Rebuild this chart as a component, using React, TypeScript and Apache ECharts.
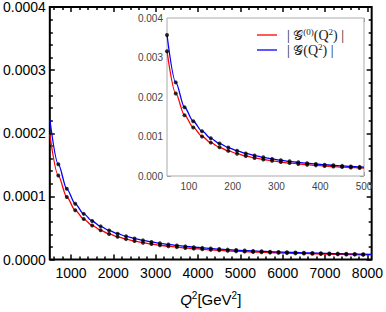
import React, { useEffect, useRef } from "react";
import * as echarts from "echarts";

// Main panel: Q^2 [GeV^2]
const mainX = [500, 700, 900, 1100, 1300, 1500, 1700, 1900, 2100, 2300, 2500, 2700, 2900, 3100, 3300, 3500, 3700, 3900, 4100, 4300, 4500, 4700, 4900, 5100, 5300, 5500, 5700, 5900, 6100, 6300, 6500, 6700, 6900, 7100, 7300, 7500, 7700, 7900, 8100];
const mainBlue = [2.22e-4, 1.51e-4, 1.12e-4, 0.882e-4, 0.723e-4, 0.61e-4, 0.525e-4, 0.46e-4, 0.409e-4, 0.367e-4, 0.332e-4, 0.303e-4, 0.278e-4, 0.257e-4, 0.239e-4, 0.2225e-4, 0.208e-4, 0.1955e-4, 0.1842e-4, 0.1741e-4, 0.1649e-4, 0.1566e-4, 0.149e-4, 0.1421e-4, 0.1357e-4, 0.1299e-4, 0.1244e-4, 0.1194e-4, 0.1148e-4, 0.1105e-4, 0.1065e-4, 0.1027e-4, 0.0992e-4, 0.0959e-4, 0.0928e-4, 0.0898e-4, 0.087e-4, 0.0844e-4, 0.0819e-4];
const mainRed = [1.98e-4, 1.33e-4, 0.99e-4, 0.78e-4, 0.64e-4, 0.54e-4, 0.462e-4, 0.405e-4, 0.36e-4, 0.323e-4, 0.292e-4, 0.267e-4, 0.245e-4, 0.226e-4, 0.21e-4, 0.196e-4, 0.183e-4, 0.172e-4, 0.162e-4, 0.153e-4, 0.145e-4, 0.138e-4, 0.131e-4, 0.125e-4, 0.119e-4, 0.114e-4, 0.109e-4, 0.105e-4, 0.101e-4, 0.097e-4, 0.094e-4, 0.09e-4, 0.087e-4, 0.084e-4, 0.082e-4, 0.079e-4, 0.077e-4, 0.074e-4, 0.072e-4];
const mainXTicks = [1000, 2000, 3000, 4000, 5000, 6000, 7000, 8000];

// Inset panel
const insetX = [50, 70, 90, 110, 130, 150, 170, 190, 210, 230, 250, 270, 290, 310, 330, 350, 370, 390, 410, 430, 450, 470, 490, 500];
const insetBlue = [3.57e-3, 2.37e-3, 1.74e-3, 1.386e-3, 1.134e-3, 0.955e-3, 0.822e-3, 0.719e-3, 0.638e-3, 0.572e-3, 0.518e-3, 0.472e-3, 0.433e-3, 0.4e-3, 0.371e-3, 0.346e-3, 0.323e-3, 0.304e-3, 0.286e-3, 0.27e-3, 0.256e-3, 0.243e-3, 0.231e-3, 0.225e-3];
const insetRed = [3.16e-3, 2.09e-3, 1.54e-3, 1.23e-3, 1.0e-3, 0.845e-3, 0.727e-3, 0.636e-3, 0.565e-3, 0.506e-3, 0.458e-3, 0.418e-3, 0.383e-3, 0.354e-3, 0.328e-3, 0.306e-3, 0.286e-3, 0.269e-3, 0.253e-3, 0.239e-3, 0.227e-3, 0.215e-3, 0.204e-3, 0.199e-3];
const insetXTicks = [100, 200, 300, 400, 500];

const RED = "#ff0000";
const BLUE = "#0000ff";
const SANS = "'Liberation Sans', Arial, Helvetica, sans-serif";
const SERIF = "'Liberation Serif', 'Times New Roman', serif";

function minorBetween(lo: number, hi: number, step: number, major: number) {
  const out: number[] = [];
  for (let v = lo; v <= hi + 1e-9; v += step) {
    if (Math.abs(v / major - Math.round(v / major)) > 1e-6) out.push(v);
  }
  return out;
}

export default function App() {
  const ref = useRef<HTMLDivElement>(null);
  useEffect(() => {
    if (!ref.current) return;
    const chart = echarts.init(ref.current, undefined, { renderer: "svg" });
    const pair = (xs: number[], ys: number[]) => xs.map((x, i) => [x, ys[i]]);
    const mainMinor = minorBetween(600, 8100, 200, 1000);
    const insetMinor = minorBetween(60, 500, 20, 100);
    const plain = (v: number) => String(v);

    const xBase = (grid: number, min: number, max: number, position: string) => ({
      type: "value",
      gridIndex: grid,
      min,
      max,
      position,
      splitLine: { show: false },
      axisLine: { show: false, onZero: false },
    });

    const mainTickColor = "#000";
    const insetTickColor = "#999";

    const option: any = {
      animation: false,
      backgroundColor: "#fff",
      grid: [
        { left: 49, right: 13, top: 6, bottom: 47, show: true, borderColor: "#000", borderWidth: 2, backgroundColor: "transparent" },
        { left: 167, right: 22, top: 18, bottom: 136, show: true, borderColor: "#aaa", borderWidth: 1, backgroundColor: "#fff", z: 5 },
      ],
      xAxis: [
        {
          ...xBase(0, 500, 8100, "bottom"),
          axisTick: { inside: true, length: 5, customValues: mainXTicks, lineStyle: { color: mainTickColor, width: 1.5 } },
          axisLabel: { customValues: mainXTicks, formatter: plain, margin: 6, color: "#000", fontSize: 14, fontFamily: SANS },
          name: "{i|Q}{s|2}{n|[GeV}{s|2}{n|]}",
          nameLocation: "middle",
          nameGap: 31,
          nameTextStyle: {
            rich: {
              i: { fontStyle: "italic", fontSize: 15, fontFamily: SANS, color: "#000", lineHeight: 18 },
              n: { fontSize: 15, fontFamily: SANS, color: "#000", lineHeight: 18 },
              s: { fontSize: 10, fontFamily: SANS, color: "#000", verticalAlign: "top", lineHeight: 10 },
            },
          },
        },
        {
          ...xBase(0, 500, 8100, "bottom"),
          axisTick: { inside: true, length: 3, customValues: mainMinor, lineStyle: { color: mainTickColor, width: 1.5 } },
          axisLabel: { show: false },
        },
        {
          ...xBase(0, 500, 8100, "top"),
          axisTick: { inside: true, length: 5, customValues: mainXTicks, lineStyle: { color: mainTickColor, width: 1.5 } },
          axisLabel: { show: false },
        },
        {
          ...xBase(0, 500, 8100, "top"),
          axisTick: { inside: true, length: 3, customValues: mainMinor, lineStyle: { color: mainTickColor, width: 1.5 } },
          axisLabel: { show: false },
        },
        {
          ...xBase(1, 50, 500, "bottom"),
          axisTick: { inside: true, length: 4, customValues: insetXTicks, lineStyle: { color: insetTickColor } },
          axisLabel: { customValues: insetXTicks, formatter: plain, margin: 5, color: "#444", fontSize: 10, fontFamily: SANS },
        },
        {
          ...xBase(1, 50, 500, "bottom"),
          axisTick: { inside: true, length: 2, customValues: insetMinor, lineStyle: { color: insetTickColor } },
          axisLabel: { show: false },
        },
        {
          ...xBase(1, 50, 500, "top"),
          axisTick: { inside: true, length: 4, customValues: insetXTicks, lineStyle: { color: insetTickColor } },
          axisLabel: { show: false },
        },
        {
          ...xBase(1, 50, 500, "top"),
          axisTick: { inside: true, length: 2, customValues: insetMinor, lineStyle: { color: insetTickColor } },
          axisLabel: { show: false },
        },
      ],
      yAxis: [
        {
          type: "value", gridIndex: 0, min: 0, max: 0.0004, interval: 0.0001, position: "left",
          splitLine: { show: false },
          axisLine: { show: false, onZero: false },
          axisTick: { inside: true, length: 5, lineStyle: { color: mainTickColor, width: 1.5 } },
          minorTick: { show: true, splitNumber: 5, length: 3, lineStyle: { color: mainTickColor, width: 1.5 } },
          axisLabel: { formatter: (v: number) => v.toFixed(4), margin: 4, color: "#000", fontSize: 14, fontFamily: SANS },
        },
        {
          type: "value", gridIndex: 0, min: 0, max: 0.0004, interval: 0.0001, position: "right",
          splitLine: { show: false },
          axisLine: { show: false, onZero: false },
          axisTick: { inside: true, length: 5, lineStyle: { color: mainTickColor, width: 1.5 } },
          minorTick: { show: true, splitNumber: 5, length: 3, lineStyle: { color: mainTickColor, width: 1.5 } },
          axisLabel: { show: false },
        },
        {
          type: "value", gridIndex: 1, min: 0, max: 0.004, interval: 0.001, position: "left",
          splitLine: { show: false },
          axisLine: { show: false, onZero: false },
          axisTick: { inside: true, length: 4, lineStyle: { color: insetTickColor } },
          minorTick: { show: true, splitNumber: 5, length: 2, lineStyle: { color: insetTickColor } },
          axisLabel: { formatter: (v: number) => v.toFixed(3), margin: 4, color: "#444", fontSize: 10, fontFamily: SANS },
        },
        {
          type: "value", gridIndex: 1, min: 0, max: 0.004, interval: 0.001, position: "right",
          splitLine: { show: false },
          axisLine: { show: false, onZero: false },
          axisTick: { inside: true, length: 4, lineStyle: { color: insetTickColor } },
          minorTick: { show: true, splitNumber: 5, length: 2, lineStyle: { color: insetTickColor } },
          axisLabel: { show: false },
        },
      ],
      series: [
        { name: "main red", type: "line", xAxisIndex: 0, yAxisIndex: 0, data: pair(mainX, mainRed), smooth: 0.3, smoothMonotone: "x", showSymbol: false, lineStyle: { color: RED, width: 1.3 }, z: 2 },
        { name: "main blue", type: "line", xAxisIndex: 0, yAxisIndex: 0, data: pair(mainX, mainBlue), smooth: 0.3, smoothMonotone: "x", showSymbol: false, lineStyle: { color: BLUE, width: 1.3 }, z: 2 },
        { name: "main red pts", type: "scatter", xAxisIndex: 0, yAxisIndex: 0, data: pair(mainX, mainRed).slice(1, -1), symbolSize: 4, itemStyle: { color: "#000" }, z: 3 },
        { name: "main blue pts", type: "scatter", xAxisIndex: 0, yAxisIndex: 0, data: pair(mainX, mainBlue).slice(1, -1), symbolSize: 4, itemStyle: { color: "#000" }, z: 3 },
        { name: "inset red", type: "line", xAxisIndex: 4, yAxisIndex: 2, data: pair(insetX, insetRed), smooth: 0.3, smoothMonotone: "x", showSymbol: false, lineStyle: { color: RED, width: 1.3 }, z: 6 },
        { name: "inset blue", type: "line", xAxisIndex: 4, yAxisIndex: 2, data: pair(insetX, insetBlue), smooth: 0.3, smoothMonotone: "x", showSymbol: false, lineStyle: { color: BLUE, width: 1.3 }, z: 6 },
        { name: "inset red pts", type: "scatter", xAxisIndex: 4, yAxisIndex: 2, data: pair(insetX, insetRed).slice(0, -1), symbolSize: 4, itemStyle: { color: "#000" }, z: 7 },
        { name: "inset blue pts", type: "scatter", xAxisIndex: 4, yAxisIndex: 2, data: pair(insetX, insetBlue).slice(0, -1), symbolSize: 4, itemStyle: { color: "#000" }, z: 7 },
      ],
      graphic: [
        { type: "line", z: 100, shape: { x1: 257, y1: 35, x2: 277, y2: 35 }, style: { stroke: RED, lineWidth: 1.3 } },
        { type: "line", z: 100, shape: { x1: 257, y1: 50, x2: 277, y2: 50 }, style: { stroke: BLUE, lineWidth: 1.3 } },
        {
          type: "text", z: 100, x: 287, y: 35,
          style: {
            text: "{n|| 𝒢}{s|(0)}{n|(Q}{s|2}{n|) |}",
            verticalAlign: "middle",
            rich: {
              n: { fontSize: 14, fontFamily: SERIF, fill: "#222", lineHeight: 15 },
              s: { fontSize: 9, fontFamily: SERIF, fill: "#222", lineHeight: 9, verticalAlign: "top" },
            },
          },
        },
        {
          type: "text", z: 100, x: 287, y: 50,
          style: {
            text: "{n|| 𝒢(Q}{s|2}{n|) |}",
            verticalAlign: "middle",
            rich: {
              n: { fontSize: 14, fontFamily: SERIF, fill: "#222", lineHeight: 15 },
              s: { fontSize: 9, fontFamily: SERIF, fill: "#222", lineHeight: 9, verticalAlign: "top" },
            },
          },
        },
      ],
    };
    chart.setOption(option);
    return () => chart.dispose();
  }, []);
  return <div ref={ref} style={{ width: 386, height: 312, position: "absolute", left: 0, top: 0 }} />;
}
